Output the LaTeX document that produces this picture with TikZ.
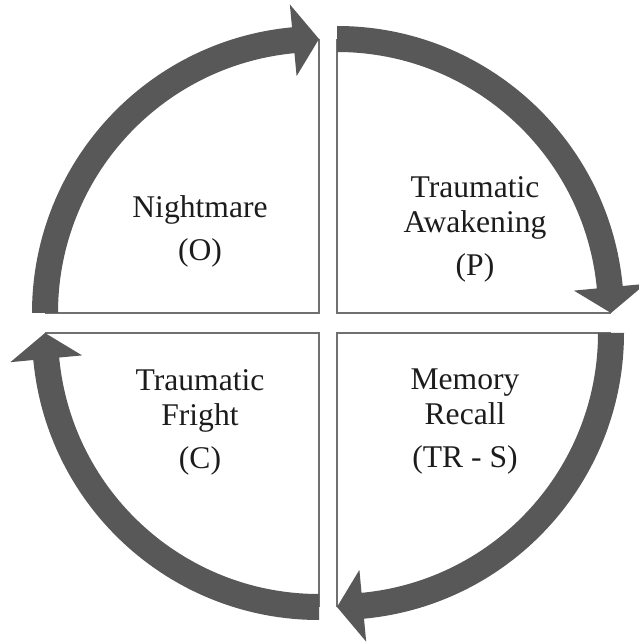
\documentclass[tikz,border=0pt]{standalone}
\usepackage{fontspec}
\setmainfont{Liberation Serif}
\usetikzlibrary{calc}
\definecolor{bandgray}{RGB}{88,88,88}
\definecolor{edgegray}{RGB}{112,112,112}
\definecolor{textgray}{RGB}{28,28,28}

\begin{document}
\begin{tikzpicture}[x=0.5pt,y=0.5pt,
  quadtext/.style={align=center,text=textgray,font=\fontsize{15.8}{17.5}\selectfont}]
\useasboundingbox (0,0) rectangle (638,643);

\def\lw{1.1pt}

% corners of the four quarters
\coordinate (tl) at (319,330);
\coordinate (tr) at (337,330);
\coordinate (br) at (337,310);
\coordinate (bl) at (319,310);

% one quarter arrow, drawn round the origin, from 180 to 90
\def\arcarrow{%
\fill[bandgray] (180:287) arc[start angle=180,end angle=95.4,radius=287]
  -- (95.4:310) -- (90:274) -- (95.4:238) -- (95.4:261)
  arc[start angle=95.4,end angle=180,radius=261] -- cycle;}

\draw[color=edgegray,line width=\lw] ($(tl)+(-274,0)$) -- (tl) -- ($(tl)+(0,274)$);
\draw[color=edgegray,line width=\lw] ($(tr)+(0,274)$) -- (tr) -- ($(tr)+(274,0)$);
\draw[color=edgegray,line width=\lw] ($(br)+(274,0)$) -- (br) -- ($(br)+(0,-274)$);
\draw[color=edgegray,line width=\lw] ($(bl)+(0,-274)$) -- (bl) -- ($(bl)+(-274,0)$);

\begin{scope}[shift={(tl)}]            \arcarrow \end{scope}
\begin{scope}[shift={(tr)},rotate=-90] \arcarrow \end{scope}
\begin{scope}[shift={(br)},rotate=-180]\arcarrow \end{scope}
\begin{scope}[shift={(bl)},rotate=-270]\arcarrow \end{scope}

\node[quadtext] (nightmare) at (200,412) {Nightmare\\[4pt](O)};
\node[quadtext] (awakening) at (475,414) {Traumatic\\Awakening\\[4pt](P)};
\node[quadtext] (recall)    at (465,221) {Memory\\Recall\\[4pt](TR - S)};
\node[quadtext] (fright)    at (200,221) {Traumatic\\Fright\\[4pt](C)};

\end{tikzpicture}
\end{document}
